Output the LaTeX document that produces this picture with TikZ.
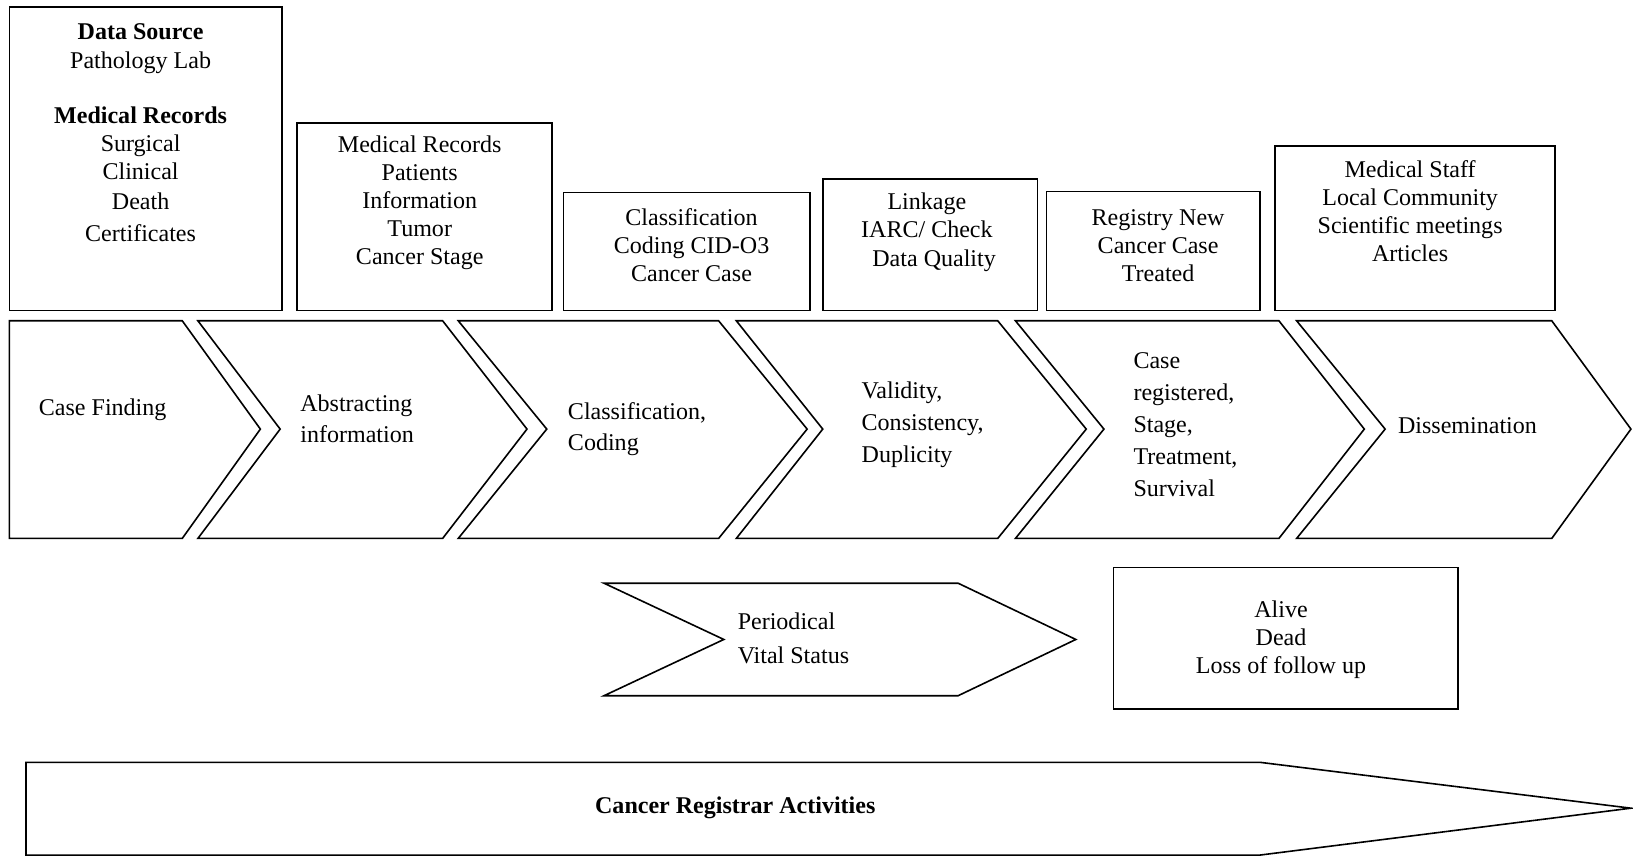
\documentclass[tikz,border=0pt]{standalone}
\usepackage{fontspec}
\setmainfont{Liberation Serif}
\usetikzlibrary{positioning}

\begin{document}
\begin{tikzpicture}[x = 0.52pt, y = -0.52pt,
            shp/.style = {draw, line width = 0.8pt, line join = miter},
            lbl/.style = {align = center, inner sep = 0pt, font = \fontsize{12}{14}\selectfont},
            lft/.style = {anchor = west, align = left, inner sep = 0pt, font = \fontsize{12}{16}\selectfont}]
            \useasboundingbox (0,0) rectangle (1568,822);
            % upper boxes
            \draw[shp] (9,7) rectangle (271,298);
            \draw[shp] (285,118) rectangle (530,298);
            \draw[shp] (541,185) rectangle (778,298);
            \draw[shp] (790,172) rectangle (996,298);
            \draw[shp] (1005,184) rectangle (1210,298);
            \draw[shp] (1224,140) rectangle (1493,298);
            \node[lbl] (src) at (135,127.5) {\textbf{Data Source}\\ Pathology Lab\\[13.5pt] \textbf{Medical Records}\\ Surgical\\ Clinical\\[1pt] Death\\[2pt] Certificates};
            \node[lbl] (rec) at (403,195) {Medical Records\\ Patients\\ Information\\ Tumor\\ Cancer Stage};
            \node[lbl] (cls) at (664,235) {Classification\\ Coding CID-O3\\ Cancer Case};
            \node[lbl] (lnk) at (890,223) {Linkage\\ IARC/ Check\\ \hspace*{0.6em}Data Quality};
            \node[lbl] (reg) at (1112,235.5) {Registry New\\ Cancer Case\\ Treated};
            \node[lbl] (pub) at (1354,203) {Medical Staff\\ Local Community\\ Scientific meetings\\ Articles};
            % process chevrons
            \foreach \l/\n/\r/\t in {9/9/175/250, 190/269/425/506, 440/525/690/775, 707/790/958/1043, 975/1060/1228/1310, 1245/1330/1490/1566}
                \draw[shp] (\l,308) -- (\r,308) -- (\t,412) -- (\r,517) -- (\l,517) -- (\n,412) -- cycle;
            \node[lft] (find) at (37,393) {Case Finding};
            \node[lft, font = \fontsize{12}{15.6}\selectfont] (abst) at (288,402) {Abstracting\\ information};
            \node[lft, font = \fontsize{12}{15.6}\selectfont] (code) at (545,412) {Classification,\\ Coding};
            \node[lft] (vali) at (827,408) {Validity,\\ Consistency,\\ Duplicity};
            \node[lft] (case) at (1088,408) {Case\\ registered,\\ Stage,\\ Treatment,\\ Survival};
            \node[lft] (diss) at (1342,409) {Dissemination};
            % follow up
            \draw[shp] (580,560) -- (920,560) -- (1033,614) -- (920,668) -- (580,668) -- (695,614) -- cycle;
            \node[lft, font = \fontsize{12}{16.6}\selectfont] (vital) at (708,613) {Periodical\\ Vital Status};
            \draw[shp] (1069,545) rectangle (1400,681);
            \node[lbl] (stat) at (1230,614) {Alive\\ Dead\\ Loss of follow up};
            % registrar arrow
            \draw[shp] (25,732) -- (1210,732) -- (1566,776) -- (1210,821) -- (25,821) -- cycle;
            \node[lbl] (act) at (706,776) {\textbf{Cancer Registrar Activities}};
        \end{tikzpicture}
\end{document}
